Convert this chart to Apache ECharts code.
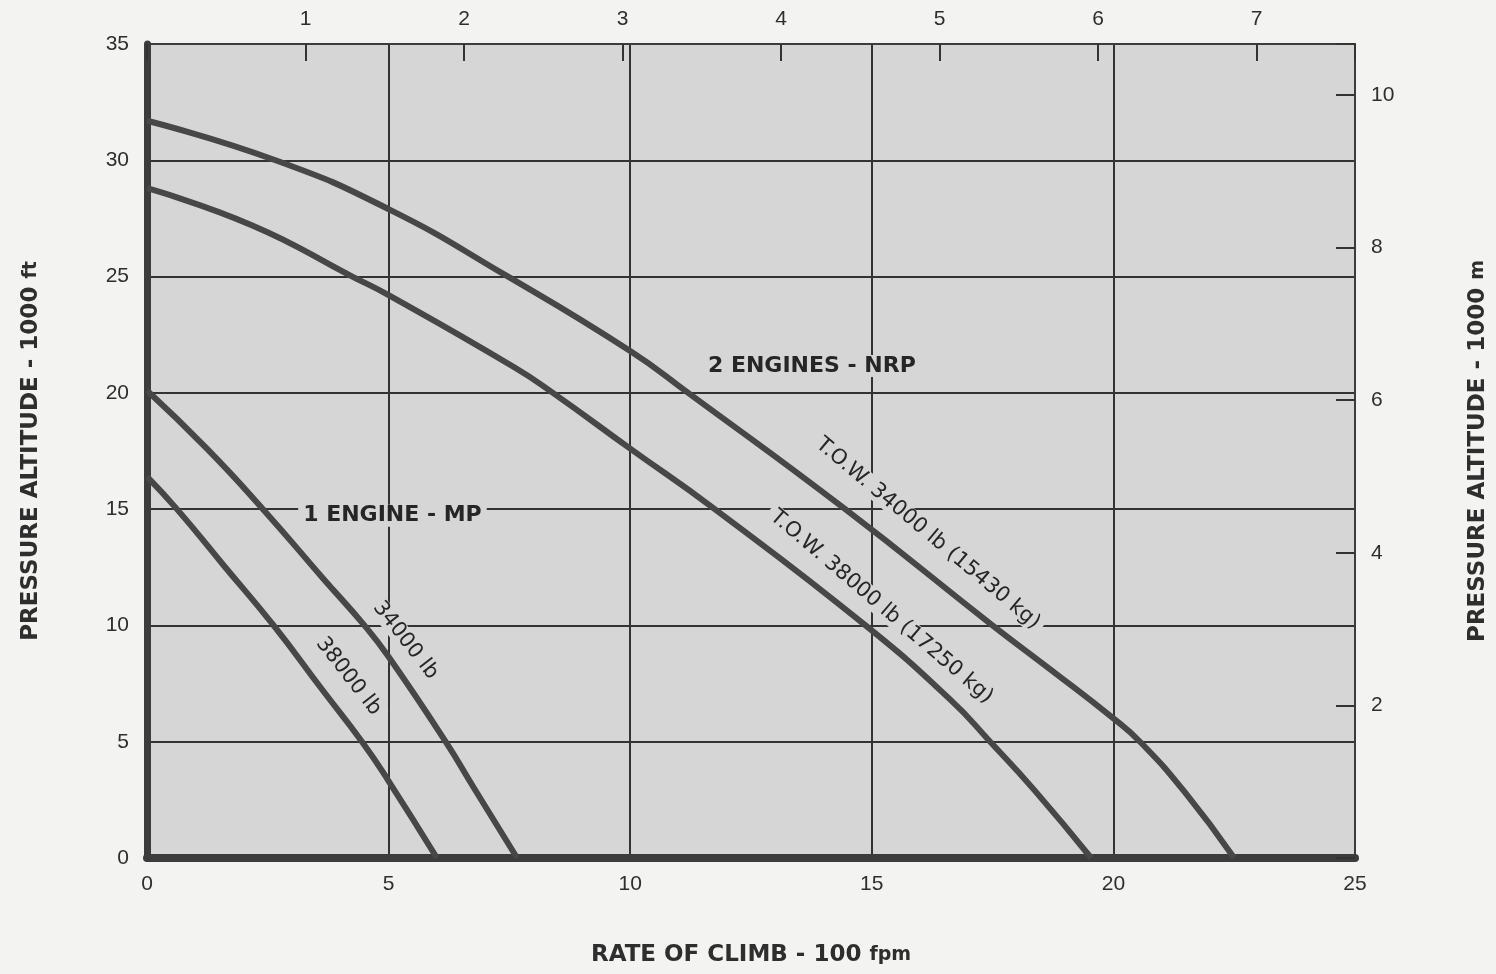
<!DOCTYPE html>
<html>
<head>
<meta charset="utf-8">
<script src="https://cdn.jsdelivr.net/npm/echarts@6/dist/echarts.min.js"></script>
<style>
  html, body { margin: 0; padding: 0; background: #f3f3f1; }
  #chart { width: 1496px; height: 974px; }
</style>
</head>
<body>
<div id="chart"></div>
<script>
// rate of climb (100 fpm) vs pressure altitude (1000 ft)
var twoEng34000 = [[0, 31.7], [2.66, 30], [5, 27.9], [7.42, 25.06], [10, 21.8], [11.2, 20], [14.45, 15], [17.47, 10.05], [18.7, 8.1], [20, 6.0], [20.55, 5], [21.47, 2.85], [22.5, 0]];
var twoEng38000 = [[0, 28.8], [2.18, 27.2], [4.25, 25], [5, 24.2], [7.6, 21.1], [8.4, 20], [10, 17.6], [11.75, 15], [14.87, 10], [16.63, 6.8], [17.45, 5], [18.36, 2.93], [19.54, 0]];
var oneEng34000 = [[0, 20.1], [1.24, 17.6], [2.4, 15], [3.64, 12.03], [4.5, 10], [5, 8.65], [6.18, 5], [6.76, 3.03], [7.66, 0]];
var oneEng38000 = [[0, 16.4], [0.62, 15], [1.58, 12.6], [2.62, 10], [3.64, 7.2], [4.45, 5], [5, 3.31], [6.0, 0]];

// text placed on the chart: [x, y, rotation, text, bold]
var notes = [
  [13.76, 21.16, 0, '2 ENGINES - NRP', true],
  [5.08, 14.72, 0, '1 ENGINE - MP', true],
  [16.16, 13.95, -40, 'T.O.W. 34000 lb (15430 kg)', false],
  [15.2, 10.8, -40.5, 'T.O.W. 38000 lb (17250 kg)', false],
  [5.35, 9.36, -52, '34000 lb', false],
  [4.17, 7.81, -52, '38000 lb', false]
];

var FT_MAX = 35;
var FPM_MAX = 25;
var M_PER_FT = 0.3048;
var FPM_PER_MMIN = 3.2808;

var plotBg = '#d6d6d6';
var ink = '#2e2e2e';
var curveColor = '#474747';
var capsFont = 'DejaVu Sans';

var chart = echarts.init(document.getElementById('chart'));

function curve(name, data) {
  return {
    name: name,
    type: 'line',
    data: data,
    smooth: 0.5,
    showSymbol: false,
    lineStyle: { color: curveColor, width: 6 },
    z: 5
  };
}

function skipEnds(v) {
  return (v === 0 || Math.abs(v - Math.round(v)) > 1e-6) ? '' : v;
}

function axisName(size) {
  return {
    fontSize: size, fontWeight: 'bold', color: ink, fontFamily: capsFont,
    rich: { s: { fontSize: size - 4, fontWeight: 'bold', color: ink, fontFamily: capsFont } }
  };
}

var option = {
  backgroundColor: '#f3f3f1',
  animation: false,
  textStyle: { fontFamily: 'Liberation Sans', color: ink },
  grid: {
    left: 147, right: 141, top: 44, bottom: 116,
    outerBoundsMode: 'none', containLabel: false,
    show: true, backgroundColor: plotBg, borderWidth: 0
  },
  xAxis: [
    {
      type: 'value', position: 'bottom', min: 0, max: FPM_MAX, interval: 5,
      name: 'RATE OF CLIMB - 100 {s|fpm}', nameLocation: 'middle', nameGap: 86,
      nameTextStyle: axisName(23),
      axisLine: { show: true, onZero: false, lineStyle: { color: '#3c3c3c', width: 8 } },
      axisTick: { show: false },
      axisLabel: { fontSize: 21, color: ink, margin: 16 },
      splitLine: { show: true, lineStyle: { color: '#333', width: 2 } }
    },
    {
      type: 'value', position: 'top', min: 0, max: FPM_MAX / FPM_PER_MMIN, interval: 1,
      axisLine: { show: true, onZero: false, lineStyle: { color: '#3c3c3c', width: 2 } },
      axisTick: { show: true, inside: true, length: 17, lineStyle: { color: '#333', width: 2 } },
      axisLabel: { fontSize: 21, color: ink, margin: 14, formatter: skipEnds },
      splitLine: { show: false }
    }
  ],
  yAxis: [
    {
      type: 'value', position: 'left', min: 0, max: FT_MAX, interval: 5,
      name: 'PRESSURE ALTITUDE - 1000 {s|ft}', nameLocation: 'middle', nameGap: 104, nameRotate: 90,
      nameTextStyle: axisName(23),
      axisLine: { show: true, onZero: false, lineStyle: { color: '#3c3c3c', width: 7 } },
      axisTick: { show: false },
      axisLabel: { fontSize: 21, color: ink, margin: 18 },
      splitLine: { show: true, lineStyle: { color: '#333', width: 2 } }
    },
    {
      type: 'value', position: 'right', min: 0, max: FT_MAX * M_PER_FT, interval: 2,
      name: 'PRESSURE ALTITUDE - 1000 {s|m}', nameLocation: 'middle', nameGap: 112, nameRotate: 90,
      nameTextStyle: axisName(23),
      axisLine: { show: true, onZero: false, lineStyle: { color: '#3c3c3c', width: 2 } },
      axisTick: { show: true, inside: true, length: 19, lineStyle: { color: '#333', width: 2 } },
      axisLabel: { fontSize: 21, color: ink, margin: 16, formatter: skipEnds },
      splitLine: { show: false }
    }
  ],
  series: [
    curve('2 engines 34000 lb', twoEng34000),
    curve('2 engines 38000 lb', twoEng38000),
    curve('1 engine 34000 lb', oneEng34000),
    curve('1 engine 38000 lb', oneEng38000),
    {
      name: 'notes',
      type: 'scatter',
      symbolSize: 0,
      itemStyle: { color: plotBg, opacity: 1 },
      z: 4,
      data: notes.map(function (n) {
        return {
          value: [n[0], n[1]],
          label: {
            show: true,
            position: 'inside',
            rotate: n[2],
            formatter: n[3],
            fontSize: n[4] ? 22 : 21,
            fontWeight: n[4] ? 'bold' : 'normal',
            fontFamily: capsFont,
            color: '#262626',
            opacity: 1,
            textBorderWidth: 0,
            backgroundColor: plotBg,
            padding: [0, 5]
          }
        };
      })
    }
  ]
};

chart.setOption(option);
</script>
</body>
</html>
